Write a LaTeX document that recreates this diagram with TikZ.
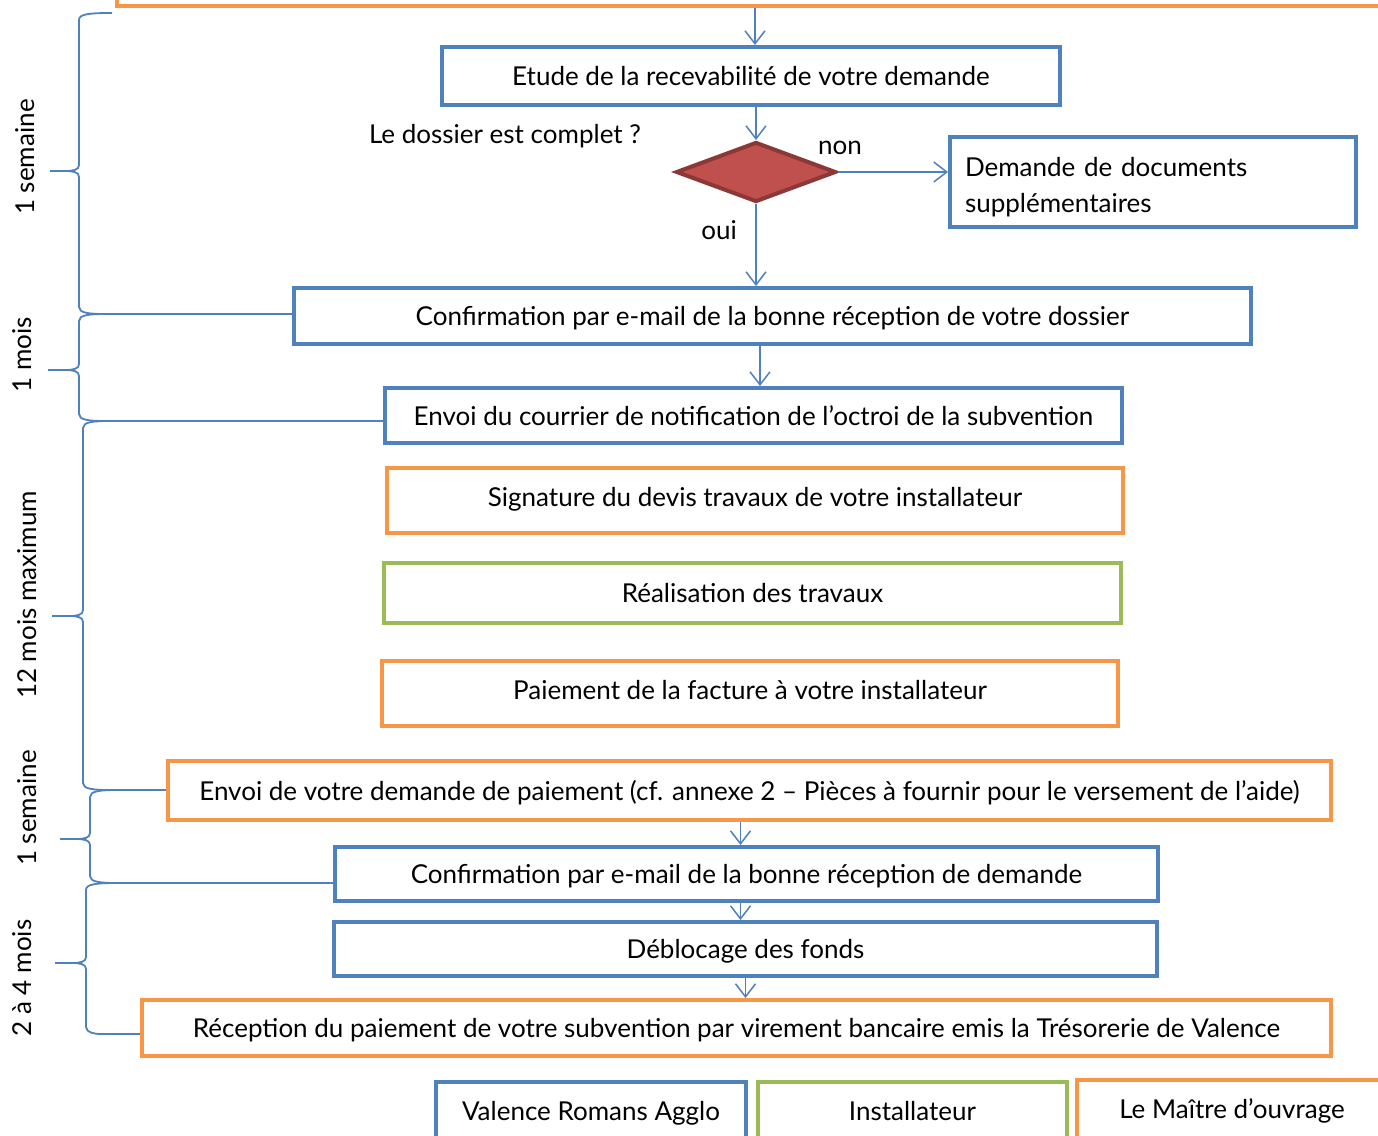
\documentclass[tikz,border=0pt]{standalone}
\usepackage{fontspec}
\setmainfont{Lato}
\usetikzlibrary{shapes.geometric,arrows.meta}
\definecolor{ofblue}{HTML}{4F81BD}
\definecolor{oforange}{HTML}{F79646}
\definecolor{ofgreen}{HTML}{9BBB59}
\definecolor{ofred}{HTML}{C0504D}
\definecolor{ofdred}{HTML}{8C3836}
\newcommand{\mybrace}[7]{%
  \draw[brace] (#1,#2) .. controls (#3+10,#2) and (#3,#2+1) .. (#3,#2+7)
    -- (#3,#5-6) .. controls (#3,#5-1) and (#3-6,#5) .. (#3-14,#5) -- (#4,#5)
    (#3-14,#5) .. controls (#3-6,#5) and (#3,#5+1) .. (#3,#5+6)
    -- (#3,#7-7) .. controls (#3,#7-1) and (#3+10,#7) .. (#6,#7);}
\begin{document}
\begin{tikzpicture}[x=1pt,y=-1pt,
  font=\fontsize{26}{31}\selectfont,
  tb/.style={line width=4pt, inner sep=0pt, text height=20pt, text depth=1pt},
  bbox/.style={draw=ofblue, tb},
  obox/.style={draw=oforange, tb},
  gbox/.style={draw=ofgreen, tb},
  arr/.style={draw=ofblue, line width=1.5pt, -{Straight Barb[length=13pt,width=20pt]}},
  brace/.style={draw=ofblue, line width=1.8pt},
  lbl/.style={inner sep=0pt, text height=20pt, text depth=1pt},
]
\useasboundingbox (0,0) rectangle (1378,1135);
\clip (0,0) rectangle (1378,1135);
\fill[white] (0,0) rectangle (1378,1135);

% top partial box
\node[obox, minimum width=1300pt, minimum height=60pt, anchor=south west] (top) at (115,8) {};

\node[bbox, minimum width=618pt, minimum height=58pt] (etude) at (751,76) {Etude de la recevabilité de votre demande};
\node[lbl] (q) at (505,134) {Le dossier est complet ?};
\node[diamond, draw=ofdred, fill=ofred, line width=4pt, inner sep=0pt,
      minimum width=160pt, minimum height=60pt, aspect=2.6] (dia) at (756,172) {};
\node[draw=ofblue, line width=4pt, inner ysep=0pt, text width=376pt, inner xsep=15pt, minimum height=90pt, align=left,
      text depth=31pt, font=\fontsize{26}{36}\selectfont] (dem) at (1153,182) {Demande de documents\\supplémentaires};
\node[lbl] (non) at (840,145) {non};
\node[lbl] (oui) at (719,230) {oui};

\node[bbox, minimum width=957pt, minimum height=56pt] (conf1) at (772.5,316) {Confirmation par e-mail de la bonne réception de votre dossier};
\node[bbox, minimum width=737pt, minimum height=55pt] (env1) at (753.5,415.5) {Envoi du courrier de notification de l’octroi de la subvention};
\node[obox, minimum width=736pt, minimum height=65pt, text depth=8pt] (sign) at (755,500.5) {Signature du devis travaux de votre installateur};
\node[gbox, minimum width=737pt, minimum height=60pt] (real) at (752.5,593) {Réalisation des travaux};
\node[obox, minimum width=736pt, minimum height=65pt, text depth=8pt] (paie) at (750,693.5) {Paiement de la facture à votre installateur};
\node[obox, minimum width=1163pt, minimum height=59pt] (env2) at (749.5,790.5) {Envoi de votre demande de paiement (cf. annexe 2 – Pièces à fournir pour le versement de l’aide)};
\node[bbox, minimum width=823pt, minimum height=54pt] (conf2) at (746.5,874) {Confirmation par e-mail de la bonne réception de demande};
\node[bbox, minimum width=823pt, minimum height=54pt] (debl) at (745.5,949) {Déblocage des fonds};
\node[obox, minimum width=1189pt, minimum height=56pt] (recep) at (736.5,1028) {Réception du paiement de votre subvention par virement bancaire emis la Trésorerie de Valence};

% legend
\node[bbox, minimum width=310pt, minimum height=58pt] (l1) at (591,1111) {Valence Romans Agglo};
\node[gbox, minimum width=309pt, minimum height=58pt] (l2) at (912.5,1111) {Installateur};
\node[obox, minimum width=310pt, minimum height=58pt] (l3) at (1232,1109) {Le Maître d’ouvrage};

% arrows
\draw[arr] ([xshift=4pt]top.south -| etude.north) -- ([xshift=4pt]etude.north);
\draw[arr] (etude.south -| dia.north) -- (dia.north);
\draw[arr] (dia.east) -- (dia.east -| dem.west);
\draw[arr] (dia.south) -- (dia.south |- conf1.north);
\draw[arr] ([xshift=4pt]conf1.south -| dia.south) -- ([xshift=4pt]dia.south |- env1.north);
\draw[arr] ([xshift=-9pt]env2.south) -- ([xshift=-9pt]env2.south |- conf2.north);
\draw[arr] ([xshift=-6pt]conf2.south) -- ([xshift=-6pt]conf2.south |- debl.north);
\draw[arr] (debl.south) -- (debl.south |- recep.north);

% braces
\mybrace{112}{13}{79}{50}{171}{105}{314}
\mybrace{105}{314}{79}{48}{370}{105}{421}
\mybrace{110}{421}{83}{52}{616}{110}{790}
\mybrace{118}{790}{90}{60}{839}{118}{883}
\mybrace{118}{883}{86}{55}{963}{100}{1034}

\coordinate (e1) at (105,314);
\coordinate (e2) at (105,421);
\coordinate (e3) at (110,790);
\coordinate (e4) at (118,883);
\coordinate (e5) at (100,1034);
\draw[brace] (e1) -- (e1 -| conf1.west);
\draw[brace] (e2) -- (e2 -| env1.west);
\draw[brace] (e3) -- (e3 -| env2.west);
\draw[brace] (e4) -- (e4 -| conf2.west);
\draw[brace] (e5) -- (e5 -| recep.west);

% duration labels
\node[inner sep=0pt, rotate=90] (d1) at (25,157) {1 semaine};
\node[inner sep=0pt, rotate=90] (d2) at (22,355) {1 mois};
\node[inner sep=0pt, rotate=90] (d3) at (27,595) {12 mois maximum};
\node[inner sep=0pt, rotate=90] (d4) at (27,808) {1 semaine};
\node[inner sep=0pt, rotate=90] (d5) at (22,978) {2 à 4 mois};
\end{tikzpicture}
\end{document}
